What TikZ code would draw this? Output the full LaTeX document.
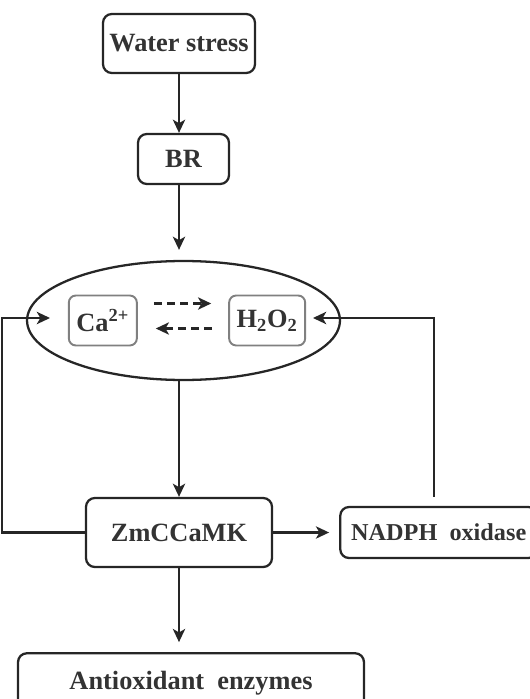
\documentclass[tikz,border=0pt]{standalone}
\usepackage{fontspec}
\setmainfont{Liberation Serif}
\usetikzlibrary{shapes.geometric, arrows.meta, positioning}

\begin{document}
\begin{tikzpicture}[x=0.02cm, y=-0.02cm]
    \tikzset{box/.style={rectangle, rounded corners=5pt, draw=black!85, line width=1.3pt, text=black!80, font=\bfseries\fontsize{15}{18}\selectfont}}
    \tikzset{ion/.style={rectangle, rounded corners=4pt, draw=black!50, line width=1.1pt, text=black!80, font=\bfseries\fontsize{15}{18}\selectfont, minimum height=1cm}}
    \tikzset{cell/.style={ellipse, draw=black!85, line width=1.3pt, minimum width=6.26cm, minimum height=2.38cm, inner sep=0pt}}
    \tikzset{arr/.style={-{Stealth[length=7.5pt,width=7pt,inset=2pt]}, line width=1.3pt, draw=black!85}}
    \tikzset{dasharr/.style={arr, line width=1.2pt, dash pattern=on 4.5pt off 3pt}}

    \useasboundingbox (0,0) rectangle (529,699);

    \node[box, minimum width=3.04cm, minimum height=1.18cm] at (179,43.5) (ws) {Water stress};
    \node[box, minimum width=1.82cm, minimum height=1cm] at (183.5,159) (br) {BR};
    \node[cell] at (183.5,320.5) (ell) {};
    \node[ion, minimum width=1.36cm, right=0.84cm of ell.west] (ca) {Ca\textsuperscript{2+}};
    \node[ion, minimum width=1.52cm, left=0.7cm of ell.east] (hoo) {H\textsubscript{2}O\textsubscript{2}};
    \node[box, minimum width=3.72cm, minimum height=1.38cm] at (179,532.5) (zm) {ZmCCaMK};
    \node[box, minimum width=3.94cm, minimum height=1.02cm, right=1.32cm of zm, font=\bfseries\fontsize{13.8}{16}\selectfont] (nad) {NADPH\ \ oxidase};
    \node[box, minimum width=6.92cm, minimum height=1.2cm, below=1.68cm of zm, xshift=0.24cm] (anti) {Antioxidant\ \ enzymes};

    \coordinate (caIn) at (50,318);
    \coordinate (hooIn) at (313,318);

    \draw[arr] (ws.south) -- (ws.south |- br.north);
    \draw[arr, shorten >=0.2cm] (ws.south |- br.south) -- (ws.south |- ell.north);
    \draw[dasharr, shorten <=0.32cm, shorten >=0.34cm] ([yshift=0.34cm]ca.east) -- ([yshift=0.34cm]ca.east -| hoo.west);
    \draw[dasharr, shorten <=0.32cm, shorten >=0.36cm] ([yshift=-0.16cm]hoo.west) -- ([yshift=-0.16cm]hoo.west -| ca.east);
    \draw[arr] (ws.south |- ell.south) -- (zm.north);
    \draw[arr, shorten >=0.2cm] (zm.east) -- (nad.west);
    \draw[arr, shorten >=0.2cm] (zm.south) -- (zm.south |- anti.north);
    \draw[arr] (zm.west) -- ++(-83,0) |- (caIn);
    \draw[arr, shorten <=0.18cm] ([xshift=-0.09cm]nad.north) |- (hooIn);

\end{tikzpicture}
\end{document}
